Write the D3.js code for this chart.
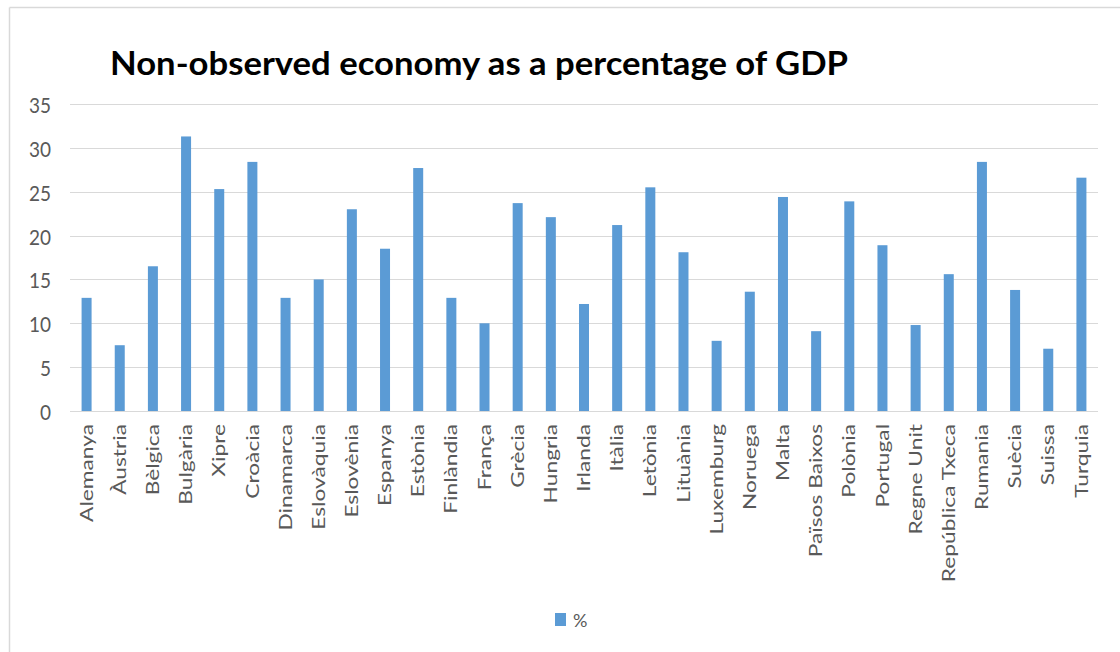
<!DOCTYPE html>
<html>
<head>
<meta charset="utf-8">
<script src="https://cdn.jsdelivr.net/npm/d3@7"></script>
<style>
  body { margin: 0; background: #fff; }
  text { font-family: Lato, "Open Sans", sans-serif; }
</style>
</head>
<body>
<svg id="chart"></svg>
<script>
const countries = ["Alemanya", "Àustria", "Bèlgica", "Bulgària", "Xipre", "Croàcia", "Dinamarca",
  "Eslovàquia", "Eslovènia", "Espanya", "Estònia", "Finlàndia", "França", "Grècia", "Hungria",
  "Irlanda", "Itàlia", "Letònia", "Lituània", "Luxemburg", "Noruega", "Malta", "Països Baixos",
  "Polònia", "Portugal", "Regne Unit", "República Txeca", "Rumania", "Suècia", "Suissa", "Turquia"];
const pct = [12.9, 7.5, 16.5, 31.3, 25.3, 28.4, 12.9, 15.0, 23.0, 18.5, 27.7, 12.9, 10.0, 23.7, 22.1,
  12.2, 21.2, 25.5, 18.1, 8.0, 13.6, 24.4, 9.1, 23.9, 18.9, 9.8, 15.6, 28.4, 13.8, 7.1, 26.6];
const yTicks = [0, 5, 10, 15, 20, 25, 30, 35];
const seriesName = "%";
const title = "Non-observed economy as a percentage of GDP";

const data = countries.map((c, i) => ({ country: c, value: pct[i] }));

const width = 1120, height = 652;
const plot = { left: 70, right: 1098, top: 104, bottom: 411 };

const svg = d3.select("#chart")
  .attr("width", width)
  .attr("height", height);

// chart frame (only top + left edges show in the screenshot)
svg.append("line").attr("x1", 9.5).attr("x2", width).attr("y1", 7.5).attr("y2", 7.5)
  .style("stroke", "#d9d9d9").style("stroke-width", 1.5);
svg.append("line").attr("x1", 9.5).attr("x2", 9.5).attr("y1", 7.5).attr("y2", height)
  .style("stroke", "#d9d9d9").style("stroke-width", 1.5);

const x = d3.scaleBand()
  .domain(countries)
  .range([plot.left, plot.right]);

const y = d3.scaleLinear()
  .domain([0, 35])
  .range([plot.bottom, plot.top]);

// gridlines
svg.append("g")
  .selectAll("line")
  .data(yTicks)
  .join("line")
  .attr("x1", plot.left)
  .attr("x2", plot.right)
  .attr("y1", d => Math.round(y(d)) + 0.5)
  .attr("y2", d => Math.round(y(d)) + 0.5)
  .style("stroke", "#d9d9d9")
  .style("stroke-width", 1);

// y axis labels
const yAxis = svg.append("g")
  .attr("transform", "translate(51,0)")
  .call(d3.axisLeft(y).tickValues(yTicks).tickSize(0).tickPadding(0));
yAxis.select(".domain").remove();
yAxis.selectAll("text")
  .style("font-size", "19px")
  .style("fill", "#595959")
  .attr("dy", null)
  .attr("dominant-baseline", "central")
  .attr("transform", "scale(1,1.12)");

const barW = 10;
svg.append("g")
  .selectAll("rect")
  .data(data)
  .join("rect")
  .attr("x", d => x(d.country) + x.bandwidth() / 2 - barW / 2)
  .attr("y", d => y(d.value))
  .attr("width", barW)
  .attr("height", d => y(0) - y(d.value))
  .style("fill", "#5b9bd5");

// x axis labels, rotated
svg.append("g")
  .selectAll("text")
  .data(countries)
  .join("text")
  .attr("transform", d => "translate(" + (x(d) + x.bandwidth() / 2) + ",424) rotate(-90) scale(1.3,1)")
  .attr("text-anchor", "end")
  .attr("dy", "0.35em")
  .style("font-size", "17.5px")
  .style("fill", "#595959")
  .text(d => d);

svg.append("text")
  .attr("x", 110)
  .attr("y", 75)
  .attr("textLength", 738)
  .attr("lengthAdjust", "spacingAndGlyphs")
  .style("font-size", "32px")
  .style("font-weight", "bold")
  .style("fill", "#000")
  .text(title);

// legend
const legend = svg.append("g").attr("transform", "translate(555,613)");
legend.append("rect").attr("width", 11).attr("height", 13).style("fill", "#5b9bd5");
legend.append("text")
  .attr("x", 18)
  .attr("y", 7)
  .attr("dominant-baseline", "central")
  .style("font-size", "18px")
  .style("fill", "#595959")
  .text(seriesName);
</script>
</body>
</html>
